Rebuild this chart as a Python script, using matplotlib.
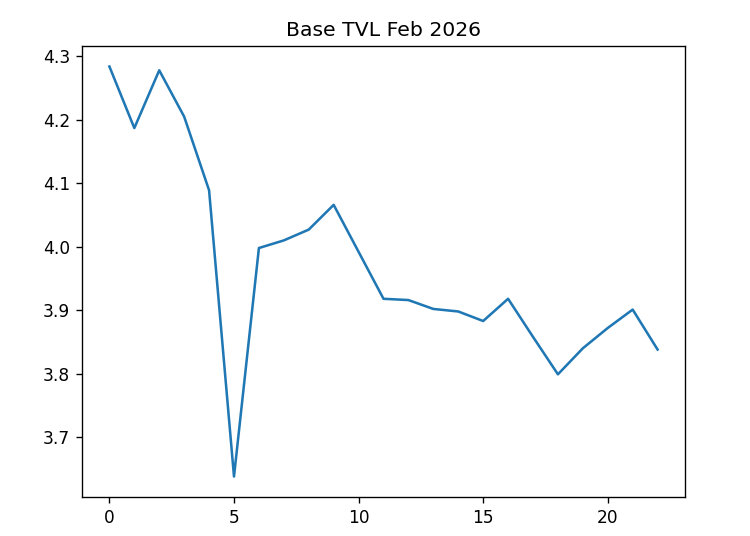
import matplotlib

matplotlib.use("Agg")
import matplotlib.pyplot as plt

days = list(range(23))
tvl = [4.284, 4.187, 4.278, 4.205, 4.089, 3.638, 3.998, 4.010, 4.027, 4.066,
       3.992, 3.918, 3.916, 3.902, 3.898, 3.883, 3.918, 3.858, 3.799, 3.840,
       3.872, 3.901, 3.838]

DPI = 122
fig = plt.figure(figsize=(750 / DPI, 536 / DPI), dpi=DPI)
ax = fig.add_axes([82 / 750, 1 - 497 / 536, 603 / 750, 451 / 536])
ax.plot(days, tvl)
ax.set_title("Base TVL Feb 2026")
fig.savefig("out.png", dpi=DPI)
